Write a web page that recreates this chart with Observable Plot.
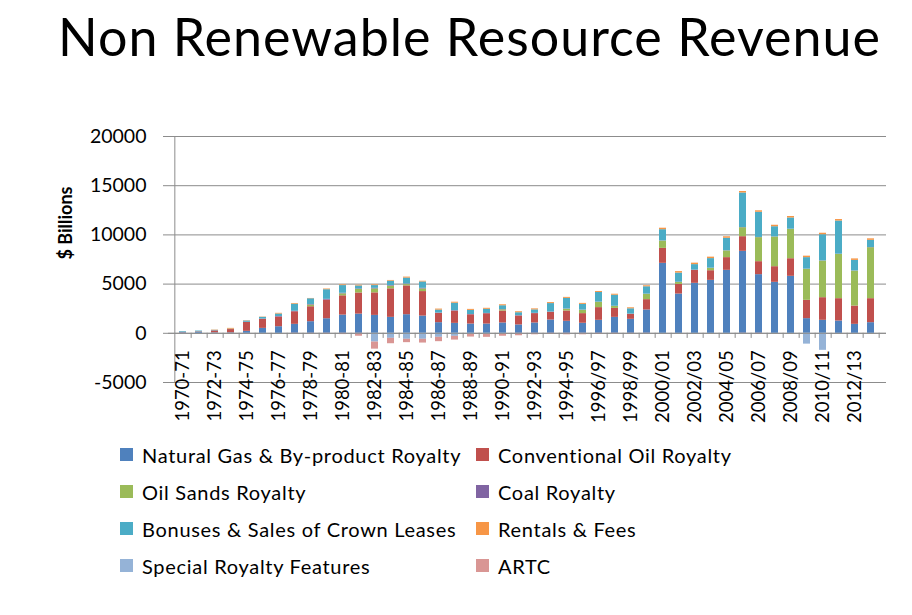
<!DOCTYPE html>
<html>
<head>
<meta charset="utf-8">
<script src="https://cdn.jsdelivr.net/npm/d3@7"></script>
<script src="https://cdn.jsdelivr.net/npm/@observablehq/plot@0.6"></script>
<style>
  html, body { margin: 0; padding: 0; background: #fff; }
  #wrap { position: relative; width: 912px; height: 615px; font-family: Lato, "Open Sans", sans-serif; color: #000; }
  #title { position: absolute; left: 58px; top: 10px; font-size: 52px; line-height: 52px; letter-spacing: 1px; white-space: nowrap; }
  #chart { position: absolute; left: 0; top: 95px; }
  #legend { position: absolute; left: 120px; top: 436px; display: grid; grid-template-columns: 356px 360px; grid-auto-rows: 37px; }
  .item { display: flex; align-items: center; font-size: 20px; letter-spacing: 0.7px; white-space: nowrap; }
  .sw { width: 13px; height: 13px; margin-right: 9px; flex: none; }
</style>
</head>
<body>
<div id="wrap">
  <div id="title">Non Renewable Resource Revenue</div>
  <div id="chart"></div>
  <div id="legend"></div>
</div>
<script>
const years = ["1970-71","1971-72","1972-73","1973-74","1974-75","1975-76","1976-77","1977-78","1978-79","1979-80",
  "1980-81","1981-82","1982-83","1983-84","1984-85","1985-86","1986-87","1987-88","1988-89","1989-90",
  "1990-91","1991-92","1992-93","1993-94","1994-95","1995-96","1996/97","1997/98","1998/99","1999/00",
  "2000/01","2001/02","2002/03","2003/04","2004/05","2005/06","2006/07","2007/08","2008/09","2009/10",
  "2010/11","2011/12","2012/13","2013/14"];

const seriesNames = ["Natural Gas & By-product Royalty","Conventional Oil Royalty","Oil Sands Royalty","Coal Royalty",
  "Bonuses & Sales of Crown Leases","Rentals & Fees","Special Royalty Features","ARTC"];
const seriesColors = ["#4F81BD","#C0504D","#9BBB59","#8064A2","#4BACC6","#F79646","#95B3D7","#D99694"];

const gas = [60,100,50,50,200,500,670,910,1180,1480,1850,1950,1820,1620,1890,1750,1080,1010,940,940,1050,850,1050,1350,1220,1020,1320,1620,1420,2370,7110,3990,5080,5380,6400,8330,5960,5180,5790,1490,1320,1250,910,1080];
const oil = [40,50,200,330,900,920,980,1280,1520,1890,1960,2150,2290,2900,2930,2490,940,1250,940,1050,1210,910,950,780,1050,980,1290,910,510,1050,1520,980,1320,980,1290,1490,1320,1590,1790,1860,2300,2270,1860,2440];
const sands = [0,0,0,0,0,0,0,0,170,0,200,350,400,270,130,270,0,0,0,0,130,0,0,0,170,340,540,200,0,540,740,200,0,240,680,910,2440,3010,2980,3150,3720,4500,3550,5180];
const coal = [0,0,0,0,20,30,60,50,60,80,60,60,60,60,60,60,40,40,30,30,30,30,30,30,30,20,20,20,20,20,20,20,20,20,20,20,20,20,20,20,20,20,20,20];
const bonus = [70,80,50,40,130,170,250,720,580,980,780,300,280,450,600,650,300,760,420,420,380,300,350,860,1080,580,980,1120,540,750,1140,930,560,970,1270,3510,2560,1030,1140,1170,2660,3370,1070,730];
const rentals = [0,0,30,80,30,30,70,70,30,70,70,70,70,70,100,70,100,100,100,100,100,100,100,100,100,100,100,100,100,100,150,150,150,150,150,150,150,150,150,150,150,150,150,150];
const special = [0,0,0,0,0,0,0,0,0,0,0,0,-890,-510,-610,-610,-410,-310,-100,-100,-50,0,0,0,0,0,0,0,0,0,0,0,0,0,0,0,0,0,0,-1100,-1730,0,0,0];
const artc = [0,0,0,0,0,0,0,-30,-60,-100,-130,-300,-720,-550,-340,-380,-440,-380,-280,-310,-250,-250,-150,-120,-150,-150,-120,-100,-60,-30,0,0,0,0,0,-20,-80,0,0,0,0,0,0,0];

const yTicks = [-5000,0,5000,10000,15000,20000];
const labelYears = years.filter((d, i) => i % 2 === 0);

const seriesValues = [gas, oil, sands, coal, bonus, rentals, special, artc];
const rows = seriesNames.flatMap((name, si) =>
  years.map((year, i) => ({year, series: name, value: seriesValues[si][i]})));

const W = 912, H = 335, mL = 168, mR = 26, mT = 41, mB = 48;
const step = (W - mL - mR) / years.length;
const grid = "#8c8c8c";

const chart = Plot.plot({
  width: W, height: H,
  marginLeft: mL, marginRight: mR, marginTop: mT, marginBottom: mB,
  style: {fontFamily: "Lato, 'Open Sans', sans-serif", background: "#fff", overflow: "visible"},
  x: {domain: years, paddingInner: 0.55, paddingOuter: 0.275, axis: null},
  y: {domain: [-5000, 20000], axis: null},
  color: {domain: seriesNames, range: seriesColors},
  marks: [
    Plot.gridY(yTicks, {stroke: grid, strokeOpacity: 1, strokeWidth: 1}),
    Plot.ruleX([years[0]], {dx: -step / 2, stroke: grid, strokeWidth: 1}),
    Plot.axisY(yTicks, {tickSize: 5, tickPadding: 17, tickFormat: d => String(d), fontSize: 19.5, stroke: grid, label: null, color: "#000"}),
    Plot.barY(rows, {x: "year", y: "value", fill: "series", order: seriesNames}),
    Plot.ruleY([0], {stroke: grid, strokeWidth: 1}),
    Plot.ruleX(years, {x: d => d, y1: 0, y2: -520, dx: step / 2, stroke: grid, strokeWidth: 1}),
    Plot.text(labelYears, {x: d => d, y: 0, text: d => d, rotate: -90, textAnchor: "end", lineAnchor: "middle", dy: 17, fontSize: 18.5, fill: "#000"}),
    Plot.text(["$ Billions"], {frameAnchor: "left", rotate: -90, dx: -102, fontWeight: "bold", fontSize: 18, fill: "#000"})
  ]
});
document.getElementById("chart").appendChild(chart);

const legend = document.getElementById("legend");
seriesNames.forEach((name, i) => {
  const item = document.createElement("div");
  item.className = "item";
  const sw = document.createElement("span");
  sw.className = "sw";
  sw.style.background = seriesColors[i];
  item.appendChild(sw);
  item.appendChild(document.createTextNode(name));
  legend.appendChild(item);
});
</script>
</body>
</html>
